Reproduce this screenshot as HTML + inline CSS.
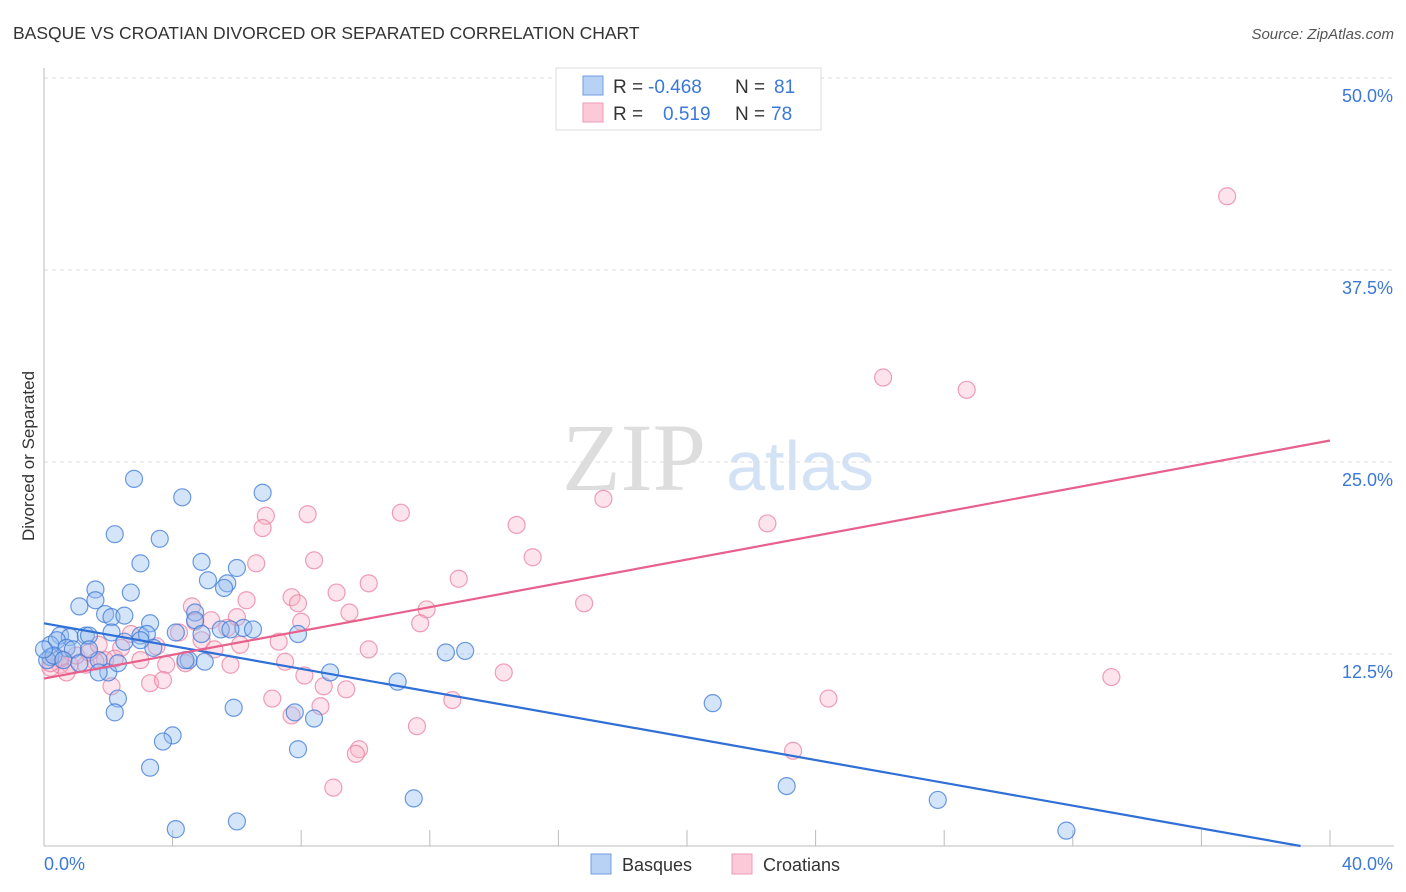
<!DOCTYPE html>
<html><head><meta charset="utf-8"><style>
body{margin:0;background:#fff;font-family:"Liberation Sans",sans-serif;}
</style></head><body>
<svg id="chart" width="1406" height="892" xmlns="http://www.w3.org/2000/svg" style="display:block">
<text x="13" y="39" font-size="17.5" fill="#333">BASQUE VS CROATIAN DIVORCED OR SEPARATED CORRELATION CHART</text>
<text x="1394" y="39" font-size="15" fill="#555" font-style="italic" text-anchor="end">Source: ZipAtlas.com</text>
<text x="0" y="0" transform="translate(34,456) rotate(-90)" font-size="17" fill="#333" text-anchor="middle">Divorced or Separated</text>
<text x="634" y="490" font-size="96" fill="#ddd" font-family="Liberation Serif,serif" text-anchor="middle">ZIP</text>
<text x="800" y="490" font-size="70" fill="#d4e2f5" text-anchor="middle">atlas</text>
<g id="grid"></g><g id="axes"></g><g id="pts"></g><g id="lines"></g>
<g>
<rect x="556" y="68" width="265" height="62" fill="#fff" stroke="#ddd"/>
<rect x="583" y="76" width="20" height="19" fill="#b8d2f5" stroke="#6f9ee0"/>
<rect x="583" y="103" width="20" height="19" fill="#fcc9d8" stroke="#ef9ab4"/>
<text x="613" y="93" font-size="19" fill="#333">R =</text><text x="648" y="93" font-size="19" fill="#3b78d8">-0.468</text>
<text x="735" y="93" font-size="19" fill="#333">N =</text><text x="774" y="93" font-size="19" fill="#3b78d8">81</text>
<text x="613" y="120" font-size="19" fill="#333">R =</text><text x="663" y="120" font-size="19" fill="#3b78d8">0.519</text>
<text x="735" y="120" font-size="19" fill="#333">N =</text><text x="771" y="120" font-size="19" fill="#3b78d8">78</text>
</g>
<g>
<rect x="591" y="854" width="20" height="20" fill="#b8d2f5" stroke="#6f9ee0"/>
<text x="622" y="871" font-size="18" fill="#333">Basques</text>
<rect x="732" y="854" width="20" height="20" fill="#fcc9d8" stroke="#ef9ab4"/>
<text x="763" y="871" font-size="18" fill="#333">Croatians</text>
</g>
</svg>
<script>
const xTicks=[0,40];
const yTicks=[12.5,25,37.5,50];
const blueX=[2.8,4.3,6.8,2.2,3.6,3.0,4.9,6.0,5.1,5.7,5.6,2.7,1.6,1.6,1.1,1.9,2.1,2.5,3.3,4.7,4.7,5.5,6.2,6.5,7.9,0.5,0.8,1.3,1.4,2.1,3.0,3.2,2.5,4.1,0.2,0.4,0.7,0.9,1.7,2.0,2.3,3.4,4.5,5.0,8.9,11.0,12.5,13.1,2.3,2.2,5.9,7.8,8.4,20.8,4.0,3.7,7.9,3.3,23.1,11.5,27.8,4.1,6.0,31.8,0.2,0.1,0.3,0.6,1.1,1.7,4.9,4.4,5.8,3.0,1.4,0.0];
const blueY=[23.9,22.7,23.0,20.3,20.0,18.4,18.5,18.1,17.3,17.1,16.8,16.5,16.7,16.0,15.6,15.1,14.9,15.0,14.5,15.2,14.7,14.1,14.2,14.1,13.8,13.7,13.6,13.7,13.7,13.9,13.7,13.8,13.3,13.9,13.1,13.4,12.9,12.8,12.1,11.3,11.9,12.9,12.1,12.0,11.3,10.7,12.6,12.7,9.6,8.7,9.0,8.7,8.3,9.3,7.2,6.8,6.3,5.1,3.9,3.1,3.0,1.1,1.6,1.0,12.3,12.1,12.4,12.1,11.9,11.3,13.8,12.1,14.1,13.4,12.8,12.8];
const pinkX=[36.8,26.1,28.7,17.4,14.7,22.5,6.9,6.8,8.2,11.1,15.2,8.4,6.6,12.9,10.1,9.1,7.7,7.9,6.3,16.8,4.6,9.5,11.9,11.7,6.0,5.2,7.3,5.7,4.9,3.5,4.2,2.7,2.4,1.9,1.6,1.3,0.8,0.5,0.2,3.0,3.8,4.4,5.8,7.5,8.1,8.7,9.4,7.1,7.7,8.6,12.7,14.3,33.2,24.4,11.6,23.3,9.8,9.7,9.0,2.1,3.3,3.7,0.5,1.0,1.4,5.3,6.1,0.2,2.2,1.7,0.7,8.0,10.1,4.7];
const pinkY=[42.3,30.5,29.7,22.6,20.9,21.0,21.5,20.7,21.6,21.7,18.8,18.6,18.4,17.4,17.1,16.5,16.2,15.8,16.0,15.8,15.6,15.2,15.4,14.5,14.9,14.7,13.3,14.2,13.4,13.0,13.9,13.8,12.9,12.1,12.0,11.8,11.8,11.8,11.6,12.1,11.8,11.9,11.8,12.0,11.1,10.4,10.2,9.6,8.5,9.1,9.5,11.3,11.0,9.6,7.8,6.2,6.3,6.0,3.8,10.4,10.6,10.8,12.2,12.4,12.6,12.8,13.1,11.9,12.2,13.1,11.3,14.6,12.8,14.6];
const blueTrend=[14.5,-0.371];
const pinkTrend=[10.9,0.3875];
const NS="http://www.w3.org/2000/svg";
const X0=44,X1=1330,Y0=846,PX=(X1-X0)/40,PY=192/12.5;
function sx(v){return X0+v*PX;}
function sy(v){return Y0-v*PY;}
function mk(t,a,p){const e=document.createElementNS(NS,t);for(const k in a)e.setAttribute(k,a[k]);document.getElementById(p).appendChild(e);return e;}
yTicks.forEach(v=>{
 const l=mk('line',{x1:X0,x2:1394,y1:sy(v),y2:sy(v),stroke:'#ddd','stroke-dasharray':'4,4'},'grid');
 
 
 const t=mk('text',{x:1393,y:sy(v)+24,'font-size':18,fill:'#3b78d8','text-anchor':'end'},'grid');
 t.textContent=v.toFixed(1)+'%';
 
 
});
const ax=mk('line',{x1:X0,x2:X0,y1:68,y2:846,stroke:'#bbb'},'axes');


const bx=mk('line',{x1:X0,x2:1394,y1:846,y2:846,stroke:'#bbb'},'axes');


for(let i=0;i<=10;i++){const tk=mk('line',{x1:sx(i*4),x2:sx(i*4),y1:830,y2:846,stroke:'#bbb'},'axes');
 
 }
xTicks.forEach((v,i)=>{const t=mk('text',{x:i?1393:44,y:870,'font-size':18,fill:'#3b78d8','text-anchor':i?'end':'start'},'axes');
 t.textContent=v.toFixed(1)+'%';
 
 });
function pts(xs,ys,fill,stroke,name){xs.forEach((x,i)=>{const c=mk('circle',{cx:sx(x),cy:sy(ys[i]),r:8.5,fill:fill,stroke:stroke,'stroke-width':1.2},'pts');
 
 });}
pts(pinkX,pinkY,'rgba(248,175,198,0.35)','rgba(232,120,155,0.7)','croatian-point');
pts(blueX,blueY,'rgba(150,190,240,0.4)','rgba(60,120,215,0.75)','basque-point');
const bEnd=-blueTrend[0]/blueTrend[1];
const bl=mk('line',{x1:sx(0),y1:sy(blueTrend[0]),x2:sx(bEnd),y2:sy(0),stroke:'#2f6fd6','stroke-width':2.2},'lines');


const pl=mk('line',{x1:sx(0),y1:sy(pinkTrend[0]),x2:sx(40),y2:sy(pinkTrend[0]+pinkTrend[1]*40),stroke:'#e8608c','stroke-width':2.2},'lines');


</script>
</body></html>
